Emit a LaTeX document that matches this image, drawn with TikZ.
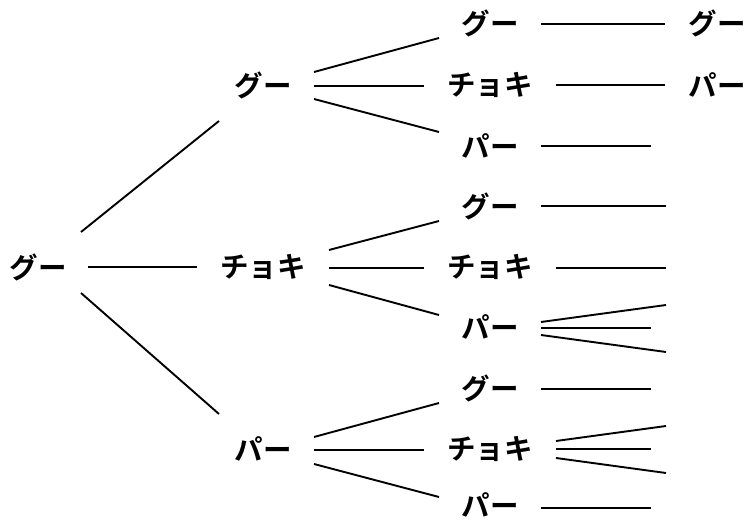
\documentclass[tikz,border=0pt]{standalone}
\usepackage{fontspec}
\newfontfamily\jp{Noto Sans CJK JP}[UprightFont=* Bold]
\usetikzlibrary{calc}
\begin{document}
\begin{tikzpicture}[x=1pt,y=-1pt,
  lbl/.style={inner sep=0pt, font=\jp\fontsize{28.5}{28.5}\selectfont},
  edge/.style={line width=1.9pt, black}]
\useasboundingbox (0,0) rectangle (748,521);
% level 0
\node[lbl] (r) at (38,267) {グー};
% level 1
\node[lbl] (a) at (263,85) {グー};
\node[lbl] (b) at (263,267) {チョキ};
\node[lbl] (c) at (263,449) {パー};
% level 2
\node[lbl] (a1) at (490,23) {グー};
\node[lbl] (a2) at (490,85) {チョキ};
\node[lbl] (a3) at (490,146) {パー};
\node[lbl] (b1) at (490,206) {グー};
\node[lbl] (b2) at (490,267) {チョキ};
\node[lbl] (b3) at (490,327) {パー};
\node[lbl] (c1) at (490,388) {グー};
\node[lbl] (c2) at (490,449) {チョキ};
\node[lbl] (c3) at (490,505) {パー};
% level 3
\node[lbl] (a1x) at (717,23) {グー};
\node[lbl] (a2x) at (717,85) {パー};
% free ends
\coordinate (fa3) at (651,146);
\coordinate (fb1) at (666,206);
\coordinate (fb2) at (666,268);
\coordinate (fb3u) at (666,305);
\coordinate (fb3m) at (651,328);
\coordinate (fb3l) at (666,352);
\coordinate (fc1) at (651,389);
\coordinate (fc2u) at (666,426);
\coordinate (fc2m) at (651,449);
\coordinate (fc2l) at (666,473);
\coordinate (fc3) at (651,508);
% level 0 -> 1
\draw[edge] ($(r)+(43,-35)$) -- ($(a)+(-44,36)$);
\draw[edge] ($(r)+(50,0)$) -- ($(b)+(-66,0)$);
\draw[edge] ($(r)+(43,26)$) -- ($(c)+(-44,-35)$);
% level 1 -> 2
\draw[edge] ($(a)+(51,-13)$) -- ($(a1)+(-51,15)$);
\draw[edge] ($(a)+(51,1)$) -- ($(a2)+(-66,1)$);
\draw[edge] ($(a)+(51,14)$) -- ($(a3)+(-51,-14)$);
\draw[edge] ($(b)+(66,-17)$) -- ($(b1)+(-51,15)$);
\draw[edge] ($(b)+(66,1)$) -- ($(b2)+(-66,1)$);
\draw[edge] ($(b)+(66,18)$) -- ($(b3)+(-51,-12)$);
\draw[edge] ($(c)+(51,-12)$) -- ($(c1)+(-51,15)$);
\draw[edge] ($(c)+(51,1)$) -- ($(c2)+(-66,1)$);
\draw[edge] ($(c)+(51,15)$) -- ($(c3)+(-51,-8)$);
% level 2 -> 3
\draw[edge] ($(a1)+(51,1)$) -- ($(a1x)+(-52,1)$);
\draw[edge] ($(a2)+(66,0)$) -- ($(a2x)+(-52,0)$);
\draw[edge] ($(a3)+(51,0)$) -- (fa3);
\draw[edge] ($(b1)+(51,0)$) -- (fb1);
\draw[edge] ($(b2)+(66,1)$) -- (fb2);
\draw[edge] ($(b3)+(51,-5)$) -- (fb3u);
\draw[edge] ($(b3)+(51,1)$) -- (fb3m);
\draw[edge] ($(b3)+(51,8)$) -- (fb3l);
\draw[edge] ($(c1)+(51,1)$) -- (fc1);
\draw[edge] ($(c2)+(66,-8)$) -- (fc2u);
\draw[edge] ($(c2)+(66,0)$) -- (fc2m);
\draw[edge] ($(c2)+(66,9)$) -- (fc2l);
\draw[edge] ($(c3)+(51,3)$) -- (fc3);
\end{tikzpicture}
\end{document}
